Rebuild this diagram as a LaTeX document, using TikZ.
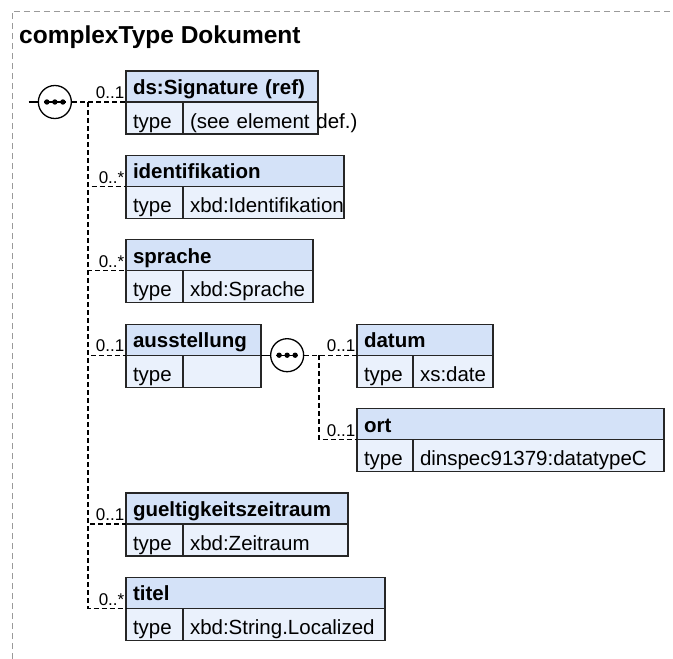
\documentclass[tikz,border=0pt]{standalone}
\usepackage{fontspec}
\setmainfont{Liberation Sans}
\usepackage{tikz}
\usetikzlibrary{positioning,shapes}
\definecolor{hdblue}{HTML}{D4E2F8}
\definecolor{tyblue}{HTML}{EAF1FC}
\definecolor{frgray}{HTML}{9A9A9A}

\begin{document}
\begin{tikzpicture}[x=1pt,y=-1pt]
\tikzstyle{box}=[rectangle,draw=black!85,line width=1.3pt,outer sep=0pt,inner xsep=7pt,inner ysep=0pt,align=left,anchor=north west]
\tikzstyle{head}=[box,fill=hdblue,minimum height=31pt,text height=19pt,text depth=3pt,font={\fontsize{20.5}{24}\bfseries\selectfont}]
\tikzstyle{cell}=[box,fill=tyblue,minimum height=32pt,text height=22pt,text depth=2pt,font={\fontsize{20.5}{24}\selectfont\hyphenpenalty=10000}]
\tikzstyle{mult}=[inner sep=0pt,font={\fontsize{17}{20}\selectfont}]
\tikzstyle{title}=[inner sep=0pt,anchor=base west,font={\fontsize{24.5}{28}\bfseries\selectfont}]
\tikzstyle{seq}=[circle,draw=black,fill=white,line width=1.3pt,minimum size=33pt,inner sep=0pt,
  path picture={\draw[black,line width=1.3pt] ([xshift=-11pt]path picture bounding box.center) -- ([xshift=11pt]path picture bounding box.center);
    \fill[black] ([xshift=-8pt]path picture bounding box.center) circle (2.7pt);
    \fill[black] (path picture bounding box.center) circle (2.7pt);
    \fill[black] ([xshift=8pt]path picture bounding box.center) circle (2.7pt);}]
\tikzstyle{link}=[line width=1.3pt,dash pattern=on 5pt off 3pt]
\tikzstyle{stub}=[line width=1.3pt]
\tikzstyle{frame}=[frgray,line width=1pt,dash pattern=on 6pt off 4pt]

\useasboundingbox (0,0) rectangle (673,659);
\draw[frame] (12,659) |- (673,11);

\node[title] (ttl) at (19,43) {complexType Dokument};

% elements of the main sequence
\node[head,text width=178pt] (hsig) at (126,71) {ds:Signature (ref)};
\node[cell,text width=43pt]  (tsig) [below=0pt of hsig.south west,anchor=north west] {type};
\node[cell,text width=121pt] (vsig) [right=0pt of tsig.north east,anchor=north west] {\mbox{(see element def.)}};

\node[head,text width=204pt] (hid) [below=21.4pt of tsig.south west,anchor=north west] {identifikation};
\node[cell,text width=43pt]  (tid) [below=0pt of hid.south west,anchor=north west] {type};
\node[cell,text width=147pt] (vid) [right=0pt of tid.north east,anchor=north west] {xbd:Identifikation};

\node[head,text width=173pt] (hsp) [below=21.4pt of tid.south west,anchor=north west] {sprache};
\node[cell,text width=43pt]  (tsp) [below=0pt of hsp.south west,anchor=north west] {type};
\node[cell,text width=116pt] (vsp) [right=0pt of tsp.north east,anchor=north west] {xbd:Sprache};

\node[head,text width=121pt] (hau) [below=21.4pt of tsp.south west,anchor=north west] {ausstellung};
\node[cell,text width=43pt]  (tau) [below=0pt of hau.south west,anchor=north west] {type};
\node[cell,text width=64pt]  (vau) [right=0pt of tau.north east,anchor=north west] {};

\node[head,text width=208pt] (hgz) [below=105.8pt of tau.south west,anchor=north west] {gueltigkeitszeitraum};
\node[cell,text width=43pt]  (tgz) [below=0pt of hgz.south west,anchor=north west] {type};
\node[cell,text width=151pt] (vgz) [right=0pt of tgz.north east,anchor=north west] {xbd:Zeitraum};

\node[head,text width=245pt] (hti) [below=21.4pt of tgz.south west,anchor=north west] {titel};
\node[cell,text width=43pt]  (tti) [below=0pt of hti.south west,anchor=north west] {type};
\node[cell,text width=188pt] (vti) [right=0pt of tti.north east,anchor=north west] {xbd:String.Localized};

% elements of ausstellung
\node[head,text width=122pt] (hda) [right=96pt of hau.north east,anchor=north west] {datum};
\node[cell,text width=42pt]  (tda) [below=0pt of hda.south west,anchor=north west] {type};
\node[cell,text width=66pt]  (vda) [right=0pt of tda.north east,anchor=north west] {xs:date};

\node[head,text width=293pt] (hort) [below=21.4pt of tda.south west,anchor=north west] {ort};
\node[cell,text width=42pt]  (tort) [below=0pt of hort.south west,anchor=north west] {type};
\node[cell,text width=237pt] (vort) [right=0pt of tort.north east,anchor=north west] {dinspec91379:datatypeC};

% multiplicities
\node[mult] (msig) [above left=3pt and 1.5pt of hsig.south west] {0..1};
\node[mult] (mid)  [above left=3pt and 1.5pt of hid.south west] {0..*};
\node[mult] (msp)  [above left=3pt and 1.5pt of hsp.south west] {0..*};
\node[mult] (mau)  [above left=3pt and 1.5pt of hau.south west] {0..1};
\node[mult] (mgz)  [above left=3pt and 1.5pt of hgz.south west] {0..1};
\node[mult] (mti)  [above left=3pt and 1.5pt of hti.south west] {0..*};
\node[mult] (mda)  [above left=3pt and 1.5pt of hda.south west] {0..1};
\node[mult] (mort) [above left=3pt and 1.5pt of hort.south west] {0..1};

% sequences
\node[seq] (s1) [left=54pt of hsig.south west] {};
\coordinate[left=9pt of s1.west] (in1);
\coordinate[left=38pt of hsig.south west] (t1);
\node[seq] (s2) [right=9pt of hau.south east] {};
\coordinate[right=58pt of hau.south east] (t2);

\draw[stub] (in1) -- (s1);
\draw[link] (s1) -- (t1) -- (hsig.south west);
\draw[link] (t1) |- (hid.south west);
\draw[link] (t1) |- (hsp.south west);
\draw[link] (t1) |- (hau.south west);
\draw[link] (t1) |- (hgz.south west);
\draw[link] (t1) |- (hti.south west);

\draw[stub] (hau.south east) -- (s2);
\draw[link] (s2) -- (t2) -- (hda.south west);
\draw[link] (t2) |- (hort.south west);
\end{tikzpicture}
\end{document}
